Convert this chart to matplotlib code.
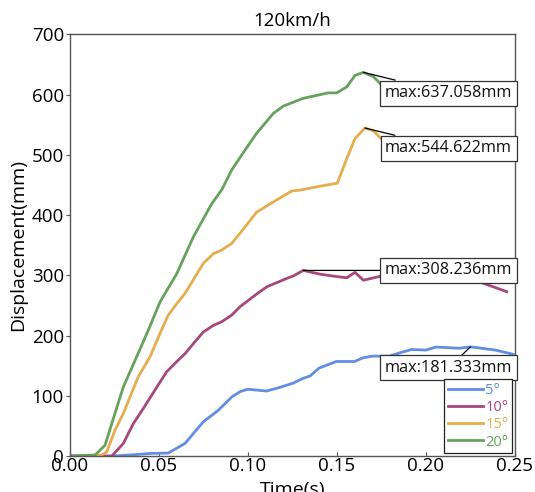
import matplotlib
matplotlib.use("Agg")
import matplotlib.pyplot as plt
import numpy as np

plt.rcParams['font.family'] = ['Open Sans', 'DejaVu Sans']

title = "120km/h"
xlabel = "Time(s)"
ylabel = "Displacement(mm)"
labels = ["5°", "10°", "15°", "20°"]
colors = ["#628de3", "#a6487a", "#e6ad4f", "#66a25d"]

t_5 = [0.0, 0.024, 0.035, 0.046, 0.0554, 0.0648, 0.0751, 0.0835, 0.091, 0.0957, 0.100,
       0.1105, 0.118, 0.1254, 0.131, 0.135, 0.140, 0.1497, 0.160, 0.1645, 0.170, 0.1795,
       0.186, 0.192, 0.200, 0.2056, 0.2187, 0.225, 0.239, 0.249]
d_5 = [0.0, 0.0, 2, 4.5, 5, 21, 57, 76, 98, 107, 111,
       108, 114, 121, 129, 133, 146, 157, 157, 163, 166, 166,
       172, 177, 176, 181, 179, 181.333, 176, 169]

t_10 = [0.0, 0.0237, 0.0302, 0.0358, 0.0414, 0.048, 0.0545, 0.0602, 0.0648, 0.0704, 0.0751,
        0.0807, 0.0854, 0.091, 0.0957, 0.1041, 0.1107, 0.1163, 0.1219, 0.1256, 0.1312,
        0.1406, 0.150, 0.1556, 0.1602, 0.1649, 0.1752, 0.185, 0.195, 0.205, 0.215,
        0.2303, 0.2378, 0.2453]
d_10 = [0.0, 0.0, 21, 54, 79, 110, 140, 157, 170, 190, 206,
        217, 223, 234, 248, 267, 281, 288, 295, 299, 308.236,
        302, 298, 296, 305, 292, 299, 302, 300, 298, 295,
        289, 281, 273]

t_15 = [0.0, 0.018, 0.0209, 0.0255, 0.0302, 0.0386, 0.0452, 0.0508, 0.0554, 0.0602, 0.0648,
        0.0751, 0.0807, 0.0854, 0.091, 0.0957, 0.105, 0.1144, 0.1247, 0.1303, 0.1387,
        0.1462, 0.1503, 0.1556, 0.1602, 0.1658, 0.1705, 0.1752, 0.185, 0.195]
d_15 = [0.0, 1.7, 7, 43, 71, 132, 165, 204, 234, 253, 270,
        320, 336, 342, 353, 370, 405, 422, 440, 442, 447,
        451, 453, 494, 527, 544.622, 540, 526, 518, 514]

t_20 = [0.0, 0.0143, 0.0199, 0.0255, 0.0302, 0.0368, 0.0442, 0.0508, 0.0602, 0.0695, 0.0798,
        0.0854, 0.091, 0.0985, 0.105, 0.1144, 0.120, 0.1312, 0.1406, 0.1452, 0.150,
        0.1556, 0.1602, 0.1649, 0.1705, 0.1752, 0.185, 0.195]
d_20 = [0.0, 1.7, 18, 71, 115, 159, 209, 256, 303, 364, 419,
        442, 475, 508, 536, 569, 581, 594, 600, 603, 603,
        613, 632, 637.058, 630, 616, 610, 606]

series_t = [t_5, t_10, t_15, t_20]
series_d = [d_5, d_10, d_15, d_20]
# vertical offset of each annotation box relative to its maximum (data units)
ann_dy = [-35, 0, -33.6, -34.5]
ann_x = 0.2127

fig = plt.figure(figsize=(5.35, 4.92), dpi=100)
ax = fig.add_axes([0.13, 0.073, 0.8326, 0.857])

for t, d, lab, c in zip(series_t, series_d, labels, colors):
    ax.plot(t, d, color=c, lw=2.0, label=lab, zorder=2)

for t, d, dy in zip(series_t, series_d, ann_dy):
    i = int(np.argmax(d))
    ax.annotate(f"max:{d[i]:.3f}mm", xy=(t[i], d[i]), xytext=(ann_x, d[i] + dy),
                ha='center', va='center', fontsize=11.7, color='#111111',
                bbox=dict(boxstyle='square,pad=0.28', fc='white', ec='#333333', lw=0.9),
                arrowprops=dict(arrowstyle='-', color='black', lw=0.9, shrinkA=0, shrinkB=0),
                zorder=5)

ax.set_xlim(0, 0.25)
ax.set_ylim(0, 700)
ax.set_xticks([0.0, 0.05, 0.10, 0.15, 0.20, 0.25])
ax.set_xticklabels(["0.00", "0.05", "0.10", "0.15", "0.20", "0.25"])
ax.set_yticks(range(0, 701, 100))
ax.tick_params(axis='x', direction='in', length=3, pad=1, labelsize=13.5, color='#555555')
ax.tick_params(axis='y', direction='out', length=3, pad=1, labelsize=13.5, color='#555555')
for s in ax.spines.values():
    s.set_color('#555555')
    s.set_linewidth(1.0)

ax.set_title(title, fontsize=13.5, pad=6)
ax.set_xlabel(xlabel, fontsize=14, labelpad=4)
ax.set_ylabel(ylabel, fontsize=14, labelpad=3)

leg = ax.legend(loc='lower right', fontsize=10.5, labelcolor='linecolor', frameon=True,
                fancybox=False, edgecolor='#222222', framealpha=1, borderaxespad=0.2,
                handlelength=2.4, handletextpad=0.15, labelspacing=0.15, borderpad=0.25)
leg.get_frame().set_linewidth(0.9)

fig.savefig("out.png", dpi=100)
